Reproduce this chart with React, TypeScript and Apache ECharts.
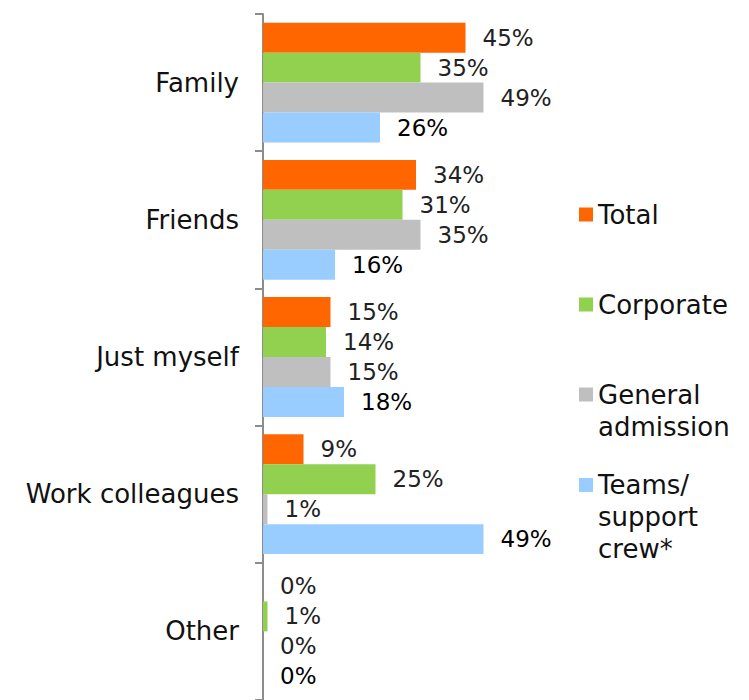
import React, { useEffect, useRef } from "react";
import * as echarts from "echarts";

const categories = ["Family", "Friends", "Just myself", "Work colleagues", "Other"];
const seriesNames = ["Total", "Corporate", "General admission", "Teams/ support crew*"];
const legendLabels = ["Total", "Corporate", "General\nadmission", "Teams/\nsupport\ncrew*"];
const totalValues = [45, 34, 15, 9, 0];
const corporateValues = [35, 31, 14, 25, 1];
const generalValues = [49, 35, 15, 1, 0];
const teamsValues = [26, 16, 18, 49, 0];
const colors = ["#FF6600", "#92D050", "#BFBFBF", "#99CCFF"];

const FONT = "DejaVu Sans";

export default function App() {
  const ref = useRef<HTMLDivElement>(null);
  useEffect(() => {
    if (!ref.current) return;
    const chart = echarts.init(ref.current, null, { renderer: "svg" });
    const values = [totalValues, corporateValues, generalValues, teamsValues];
    const legendCenters = [214.5, 304.5, 394.5, 485];
    const lineH = 32;
    const legends = seriesNames.map((name, i) => {
      const textLines = legendLabels[i].split("\n");
      const m = textLines.length;
      const padded = new Array(m - 1).fill(" ").concat(textLines).join("\n");
      const H = (2 * m - 1) * lineH;
      const offset = Math.max(7, H / 2);
      return {
        data: [name],
        orient: "vertical",
        left: 579,
        top: legendCenters[i] - offset,
        padding: 0,
        itemWidth: 14,
        itemHeight: 14,
        icon: "rect",
        selectedMode: false,
        formatter: () => padded,
        textStyle: {
          fontFamily: FONT,
          fontSize: 26,
          lineHeight: lineH,
          color: "#111",
        },
      };
    });
    chart.setOption({
      animation: false,
      backgroundColor: "#ffffff",
      textStyle: { fontFamily: FONT },
      legend: legends,
      grid: { left: 263, top: 14, height: 688, width: 270, containLabel: false },
      xAxis: { type: "value", min: 0, max: 60, show: false },
      yAxis: {
        type: "category",
        data: categories,
        inverse: true,
        axisLine: { show: true, lineStyle: { color: "#8C8C8C", width: 2 } },
        axisTick: { show: true, length: 8, lineStyle: { color: "#8C8C8C", width: 2 } },
        axisLabel: { fontSize: 26, color: "#111", margin: 24, fontFamily: FONT },
      },
      series: seriesNames.map((name, i) => ({
        type: "bar",
        name,
        data: values[i],
        barGap: "0%",
        barCategoryGap: "12.7%",
        itemStyle: { color: colors[i] },
        label: {
          show: true,
          position: "right",
          distance: 17,
          formatter: "{c}%",
          fontSize: 23,
          fontFamily: FONT,
          color: i === 3 ? "#000" : "#222",
        },
      })),
    });
    return () => chart.dispose();
  }, []);
  return (
    <div
      ref={ref}
      style={{ position: "fixed", left: 0, top: 0, width: 749, height: 700 }}
    />
  );
}
